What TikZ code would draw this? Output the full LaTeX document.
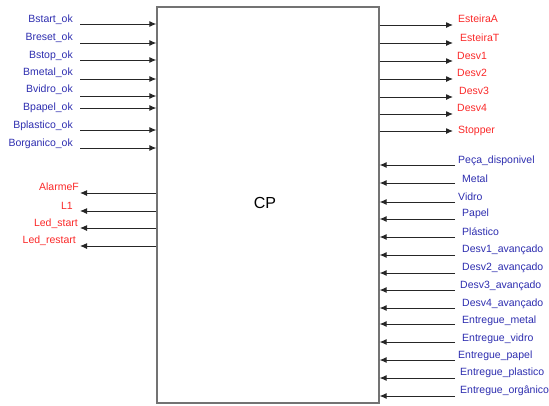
\documentclass[tikz,border=0pt]{standalone}
\usepackage{fontspec}
\setmainfont{Liberation Sans}
\usetikzlibrary{arrows.meta}
\definecolor{sigblue}{RGB}{45,45,175}
\definecolor{sigred}{RGB}{250,40,40}
\begin{document}
\begin{tikzpicture}[x=1pt,y=-1pt,
  lbl/.style={inner sep=0pt,font=\fontsize{10.5}{12}\selectfont},
  inlbl/.style={lbl,text=sigblue},
  outlbl/.style={lbl,text=sigred},
  sig/.style={draw=black!85,line width=1pt,-{Latex[length=7pt,width=6pt]}},
  cpbox/.style={draw=black!55,line width=1.2pt,minimum width=222pt,minimum height=396pt,inner sep=0pt}]
\useasboundingbox (0,0) rectangle (549,405);
\node[cpbox] (cp) at (268,205) {};
\node[font=\fontsize{16}{18}\selectfont] (cplbl) at (265,203) {CP};
% left inputs
\foreach \n/\t/\ly/\ay in {a/Bstart\_ok/20/24, b/Breset\_ok/38/43, c/Bstop\_ok/56/60, d/Bmetal\_ok/73/79, e/Bvidro\_ok/90/96, f/Bpapel\_ok/108/108, g/Bplastico\_ok/126/130, h/Borganico\_ok/144/148}{
  \node[inlbl,anchor=east] (li\n) at (73,\ly) {\t};
  \coordinate (lis\n) at (80,\ay);
  \draw[sig] (lis\n) -- (cp.west |- lis\n);
}
% left outputs
\foreach \n/\t/\lx/\ly/\ay in {a/AlarmeF/79/187/193, b/L1/73/206/211, c/Led\_start/78/224/228, d/Led\_restart/76/241/246}{
  \node[outlbl,anchor=east] (lo\n) at (\lx,\ly) {\t};
  \coordinate (loe\n) at (80,\ay);
  \draw[sig] (cp.west |- loe\n) -- (loe\n);
}
% right outputs
\foreach \n/\t/\lx/\ly/\ay in {a/EsteiraA/458/19/25, b/EsteiraT/460/38/43, c/Desv1/457/56/61, d/Desv2/457/73/79, e/Desv3/459/91/97, f/Desv4/457/108/114, g/Stopper/458/131/131}{
  \node[outlbl,anchor=west] (ro\n) at (\lx,\ly) {\t};
  \coordinate (roe\n) at (453,\ay);
  \draw[sig] (cp.east |- roe\n) -- (roe\n);
}
% right inputs
\foreach \n/\t/\lx/\ly/\ay in {a/Peça\_disponivel/458/161/165, b/Metal/462/179/183, c/Vidro/458/197/202, d/Papel/462/214/219, e/Plástico/462/232/237, f/Desv1\_avançado/462/250/255, g/Desv2\_avançado/462/268/273, h/Desv3\_avançado/460/286/290, i/Desv4\_avançado/462/304/308, j/Entregue\_metal/462/321/324, k/Entregue\_vidro/462/339/342, l/Entregue\_papel/458/356/360, m/Entregue\_plastico/460/373/378, n/Entregue\_orgânico/460/391/396}{
  \node[inlbl,anchor=west] (ri\n) at (\lx,\ly) {\t};
  \coordinate (ris\n) at (455,\ay);
  \draw[sig] (ris\n) -- (cp.east |- ris\n);
}
\end{tikzpicture}
\end{document}
